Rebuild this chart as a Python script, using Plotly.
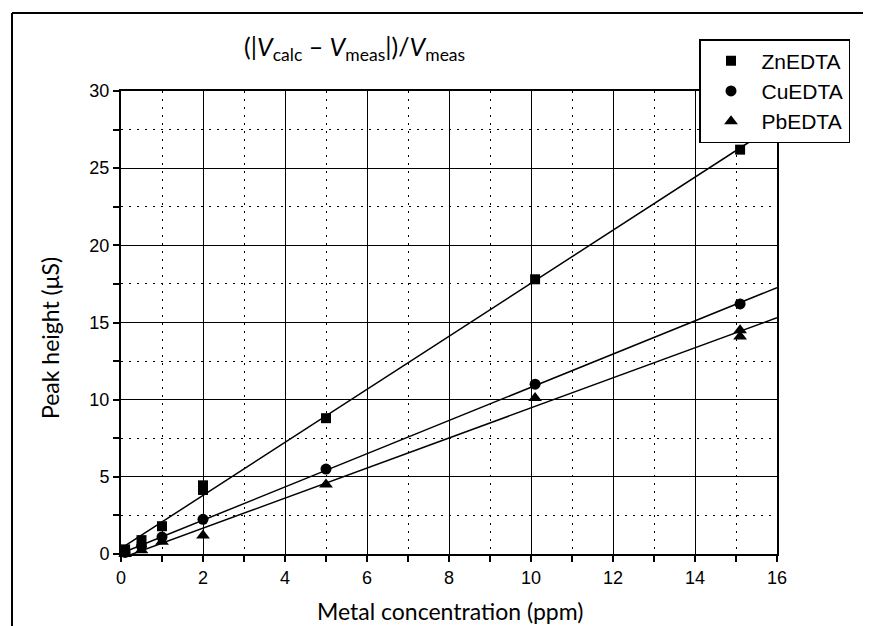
import numpy as np
import plotly.graph_objects as go

# ---- data ----
conc_zn = [0.1, 0.5, 1.0, 2.0, 2.0, 5.0, 10.1, 15.1]
peak_zn = [0.3, 0.9, 1.8, 4.15, 4.45, 8.8, 17.8, 26.2]
conc_cu = [0.1, 0.5, 1.0, 2.0, 5.0, 10.1, 15.1]
peak_cu = [0.1, 0.5, 1.1, 2.25, 5.5, 11.0, 16.2]
conc_pb = [0.1, 0.5, 1.0, 2.0, 5.0, 10.1, 15.1, 15.1]
peak_pb = [0.0, 0.25, 0.8, 1.2, 4.5, 10.1, 14.1, 14.5]
series_names = ["ZnEDTA", "CuEDTA", "PbEDTA"]
x_ticks = [0, 2, 4, 6, 8, 10, 12, 14, 16]
y_ticks = [0, 5, 10, 15, 20, 25, 30]

# page body margin of the browser offsets the figure by 8 px
OFF = 8
W, H = 871 - OFF, 626 - OFF
L, T = 121 - OFF, 91 - OFF
R = W - (777 - OFF)
B = H - (554 - OFF)
PW, PH = W - L - R, H - T - B


def px_x(p):
    return (p - OFF - L) / PW


def px_y(p):
    return (H - B - (p - OFF)) / PH


symbols = ["square", "circle", "triangle-up"]
sizes = [10, 11, 12]
data = [(conc_zn, peak_zn), (conc_cu, peak_cu), (conc_pb, peak_pb)]

fig = go.Figure()
xfit = np.array([0.0, 16.0])
for (xs, ys) in data:
    k, b = np.polyfit(xs, ys, 1)
    fig.add_trace(go.Scatter(x=xfit, y=k * xfit + b, mode="lines",
                             line=dict(color="black", width=1.5),
                             showlegend=False, hoverinfo="skip"))
for name, sym, sz, (xs, ys) in zip(series_names, symbols, sizes, data):
    fig.add_trace(go.Scatter(x=xs, y=ys, mode="markers", name=name,
                             marker=dict(symbol=sym, size=sz, color="black"),
                             cliponaxis=False))

tickfont = dict(family="Liberation Sans, Arial, sans-serif", size=18, color="black")
axis_common = dict(
    showgrid=True, gridcolor="black", gridwidth=1.3,
    showline=True, linecolor="black", linewidth=2, mirror=True,
    ticks="outside", ticklen=6, tickwidth=1.5, tickcolor="black",
    zeroline=False, tickfont=tickfont,
)
fig.update_xaxes(range=[0, 16], tickvals=x_ticks,
                 minor=dict(dtick=1, showgrid=True, gridcolor="black",
                            griddash="2px,6px", gridwidth=1.3,
                            ticks="outside", ticklen=6, tickcolor="black"),
                 **axis_common)
fig.update_yaxes(range=[0, 30], tickvals=y_ticks,
                 minor=dict(dtick=2.5, showgrid=True, gridcolor="black",
                            griddash="2px,6px", gridwidth=1.3,
                            ticks="outside", ticklen=6, tickcolor="black"),
                 **axis_common)

titlefont = "Lato, Open Sans, sans-serif"
fig.add_annotation(x=px_x(354), y=px_y(48), xref="paper", yref="paper",
                   text="(|<i>V</i><sub>calc</sub> – <i>V</i><sub>meas</sub>|)/<i>V</i><sub>meas</sub>",
                   showarrow=False, xanchor="center", yanchor="middle",
                   font=dict(family=titlefont, size=25, color="black"))
fig.add_annotation(x=px_x(50), y=px_y(338), xref="paper", yref="paper",
                   text="Peak height (μS)", textangle=-90,
                   showarrow=False, xanchor="center", yanchor="middle",
                   font=dict(family=titlefont, size=23, color="black"))
fig.add_annotation(x=px_x(450), y=px_y(611), xref="paper", yref="paper",
                   text="Metal concentration (ppm)",
                   showarrow=False, xanchor="center", yanchor="middle",
                   font=dict(family=titlefont, size=23, color="black"))

# outer frame (top and left edges)
fig.add_shape(type="line", xref="paper", yref="paper",
              x0=px_x(12), y0=px_y(13), x1=px_x(866), y1=px_y(13),
              line=dict(color="black", width=2))
fig.add_shape(type="line", xref="paper", yref="paper",
              x0=px_x(12), y0=px_y(13), x1=px_x(12), y1=px_y(640),
              line=dict(color="black", width=2))

fig.update_layout(
    width=W, height=H,
    margin=dict(l=L, r=R, t=T, b=B),
    plot_bgcolor="white", paper_bgcolor="white",
    showlegend=True,
    legend=dict(x=px_x(699), y=px_y(39), xanchor="left", yanchor="top",
                bgcolor="white", bordercolor="black", borderwidth=1.5,
                font=dict(family="Liberation Sans, Arial, sans-serif", size=21, color="black"),
                itemwidth=51, tracegroupgap=0),
)

fig.write_html("out.html")
